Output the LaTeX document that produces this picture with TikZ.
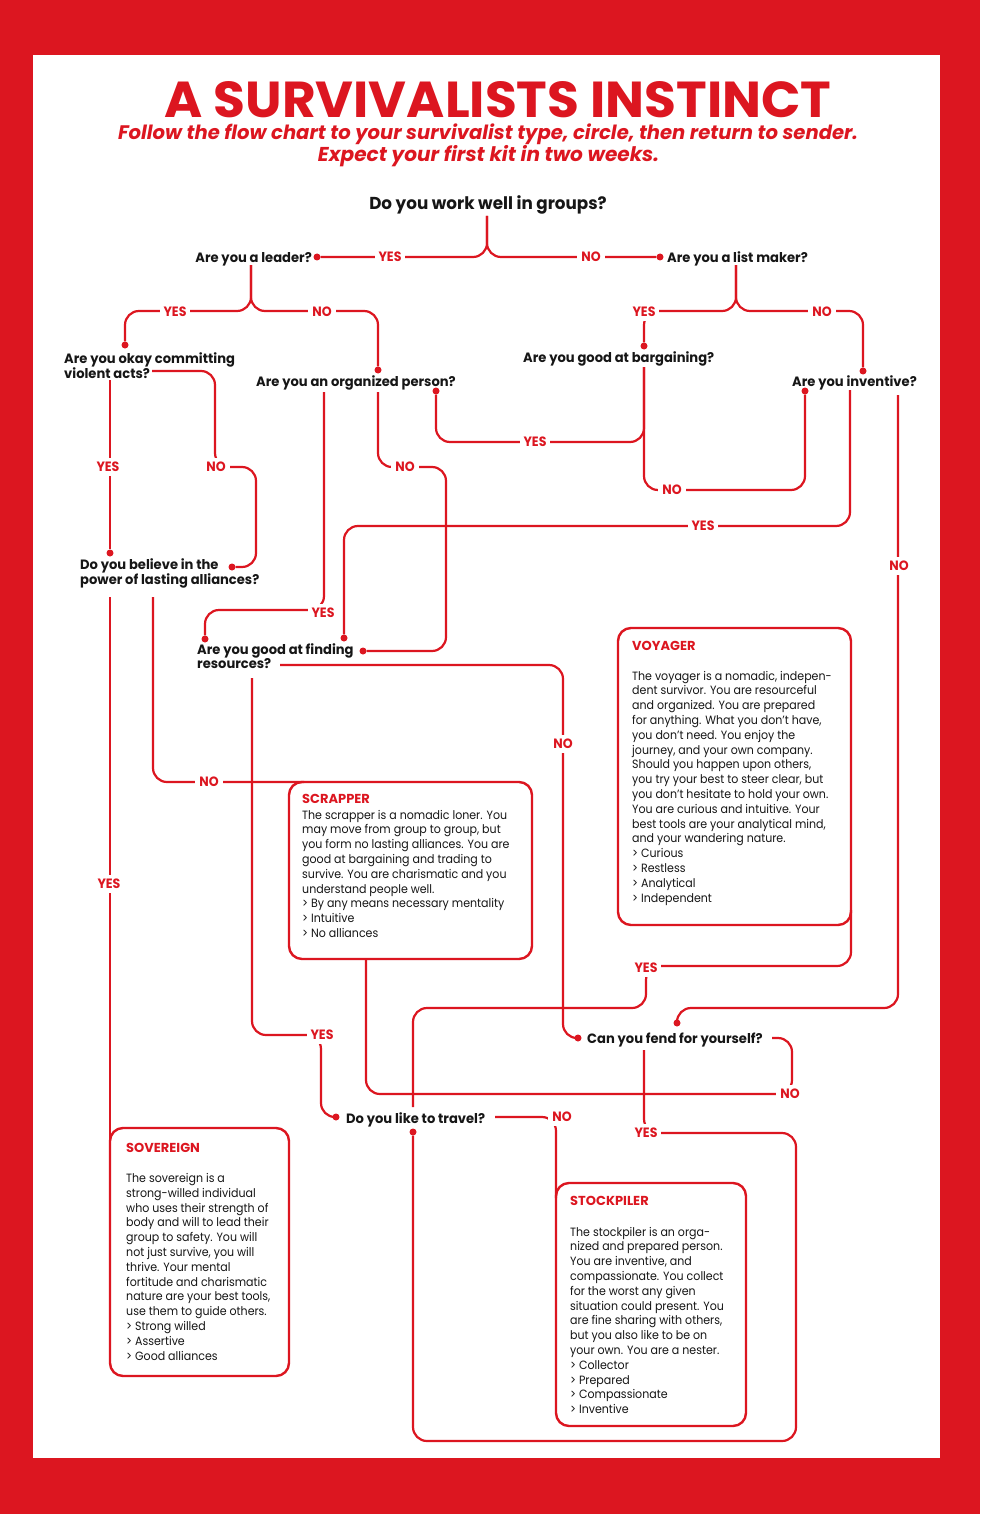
\documentclass[tikz,border=0pt]{standalone}
\usepackage{fontspec}
\setmainfont{Poppins}
\usepackage{graphicx}
\definecolor{rd}{RGB}{220,22,32}
\definecolor{ink}{RGB}{22,22,22}
\def\qsx{0.97}
\def\bsx{0.92}
\newcommand\qtxt[1]{\scalebox{\qsx}[1]{\begin{tabular}[t]{@{}l@{}}#1\end{tabular}}}
\newcommand\btxt[1]{\scalebox{\bsx}[1]{\begin{tabular}[t]{@{}l@{}}#1\end{tabular}}}
\newcommand\lb[1]{\scalebox{0.93}[1]{#1}}
\tikzset{
  conn/.style={draw=rd, line width=2.2pt, rounded corners=14pt},
  dot/.style={circle, fill=rd, inner sep=0pt, minimum size=7pt},
  q/.style={inner sep=0pt, text=ink, font=\fontsize{13.5}{14.5}\selectfont\bfseries, anchor=base west},
  lbl/.style={fill=white, inner xsep=4pt, inner ysep=4pt, text=rd, font=\fontsize{13.5}{13.5}\selectfont\bfseries},
  rbox/.style={draw=rd, line width=2.4pt, rounded corners=13pt, inner sep=0pt, outer sep=0pt, anchor=north west},
  btitle/.style={inner sep=0pt, anchor=base west, text=rd, font=\fontsize{13}{13}\selectfont\bfseries},
  body/.style={inner sep=0pt, anchor=base west, text=ink, font=\fontsize{12}{14.8}\selectfont},
}
\begin{document}
\begin{tikzpicture}[x=1pt,y=-1pt]
\useasboundingbox (0,0) rectangle (980,1514);
\fill[rd] (0,0) rectangle (980,1514);
\fill[white] (33,55) rectangle (940,1458);

% title
\node[inner sep=0pt, text=rd] (title) at (498,99.5) {\resizebox{667pt}{36pt}{\fontsize{50}{50}\selectfont\bfseries A SURVIVALISTS INSTINCT}};
\node[inner sep=0pt, text=rd, anchor=base] (sub1) at (488,140) {\resizebox{740pt}{!}{\fontsize{17}{17}\selectfont\bfseries\itshape Follow the flow chart to your survivalist type, circle, then return to sender.}};
\node[inner sep=0pt, text=rd, anchor=base] (sub2) at (488.5,162) {\resizebox{341pt}{!}{\fontsize{17}{17}\selectfont\bfseries\itshape Expect your first kit in two weeks.}};

% questions
\node[q, anchor=base, font=\fontsize{17.3}{18}\selectfont\bfseries] (q1) at (488,209.5) {\qtxt{Do you work well in groups?}};
\node[q, anchor=base east] (qLeader) at (312,262) {\qtxt{Are you a leader?}};
\node[q] (qList) at (667,262) {\qtxt{Are you a list maker?}};
\node[q] (qViol) at (64,363) {\qtxt{Are you okay committing\\violent acts?}};
\node[q] (qOrg) at (256,386) {\qtxt{Are you an organized person?}};
\node[q] (qBarg) at (523,362.5) {\qtxt{Are you good at bargaining?}};
\node[q] (qInv) at (792,386) {\qtxt{Are you inventive?}};
\node[q] (qAlli) at (80,569) {\qtxt{Do you believe in the\\power of lasting alliances?}};
\node[q] (qFind) at (197,654) {\qtxt{Are you good at finding\\resources?}};
\node[q] (qFend) at (587,1043.5) {\qtxt{Can you fend for yourself?}};
\node[q] (qTravel) at (346,1123) {\qtxt{Do you like to travel?}};

% result boxes
\node[rbox, minimum width=233pt, minimum height=297pt] (voyager) at (618,628) {};
\node[rbox, minimum width=243pt, minimum height=177pt] (scrapper) at (289,782) {};
\node[rbox, minimum width=179pt, minimum height=248pt] (sovereign) at (110,1128) {};
\node[rbox, minimum width=190pt, minimum height=243pt] (stockpiler) at (556,1183) {};

\node[btitle] (tVoy) at (632,650) {VOYAGER};
\node[body] (bVoy) at (632,680) {\btxt{The voyager is a nomadic, indepen-\\dent survivor. You are resourceful\\and organized. You are prepared\\for anything. What you don’t have,\\you don’t need. You enjoy the\\journey, and your own company.\\Should you happen upon others,\\you try your best to steer clear, but\\you don’t hesitate to hold your own.\\You are curious and intuitive. Your\\best tools are your analytical mind,\\and your wandering nature.\\> Curious\\> Restless\\> Analytical\\> Independent}};
\node[btitle] (tScr) at (302,803) {SCRAPPER};
\node[body] (bScr) at (302,819) {\btxt{The scrapper is a nomadic loner. You\\may move from group to group, but\\you form no lasting alliances. You are\\good at bargaining and trading to\\survive. You are charismatic and you\\understand people well.\\> By any means necessary mentality\\> Intuitive\\> No alliances}};
\node[btitle] (tSov) at (126,1152.5) {SOVEREIGN};
\node[body] (bSov) at (126,1182.5) {\btxt{The sovereign is a\\strong-willed individual\\who uses their strength of\\body and will to lead their\\group to safety. You will\\not just survive, you will\\thrive. Your mental\\fortitude and charismatic\\nature are your best tools,\\use them to guide others.\\> Strong willed\\> Assertive\\> Good alliances}};
\node[btitle] (tSto) at (570,1205.5) {STOCKPILER};
\node[body] (bSto) at (570,1236) {\btxt{The stockpiler is an orga-\\nized and prepared person.\\You are inventive, and\\compassionate. You collect\\for the worst any given\\situation could present. You\\are fine sharing with others,\\but you also like to be on\\your own. You are a nester.\\> Collector\\> Prepared\\> Compassionate\\> Inventive}};

% dots (connector ends)
\node[dot] (dLeader) at (317,257) {};
\node[dot] (dList) at (660,257) {};
\node[dot] (dViol) at (125,345) {};
\node[dot] (dOrg) at (378,370) {};
\node[dot] (dBarg) at (644,346) {};
\node[dot] (dInv) at (863,371) {};
\node[dot] (dAlliY) at (110,553) {};
\node[dot] (dAlliN) at (232,567) {};
\node[dot] (dFindY) at (205,639) {};
\node[dot] (dFindN) at (363,651) {};
\node[dot] (dOrgB) at (436,391) {};
\node[dot] (dInvB) at (805,391) {};
\node[dot] (dFindI) at (344,638) {};
\node[dot] (dFendI) at (677,1023) {};
\node[dot] (dTravF) at (336,1117) {};
\node[dot] (dFendF) at (578,1038) {};
\node[dot] (dTravY) at (413,1132) {};

% connector start / end points
\coordinate (s1) at (487,216);
\coordinate (sLeader) at (251,265);
\coordinate (sList) at (736,265);
\coordinate (sViolY) at (110,380);
\coordinate (sViolN) at (152,371);
\coordinate (sAlliY) at (110,597);
\coordinate (sAlliN) at (153,597);
\coordinate (sOrgY) at (324,392);
\coordinate (sOrgN) at (378,392);
\coordinate (sBarg) at (644,367);
\coordinate (sInvY) at (850,390);
\coordinate (sInvN) at (898,395);
\coordinate (sFindY) at (252,678);
\coordinate (sFindN) at (280,665);
\coordinate (sFendY) at (644,1050);
\coordinate (sFendN) at (772,1038);
\coordinate (sTravY) at (413,1107);
\coordinate (sTravN) at (495,1117);
\coordinate (eScr) at (366,959);
\coordinate (eScrT) at (304,782);
\coordinate (eSov) at (110,1143);
\coordinate (eSto) at (556,1198);
\coordinate (eVoy) at (851,910);

% connectors
\draw[conn] (s1) -- (s1 |- dLeader) -- (dLeader);
\draw[conn] (s1) -- (s1 |- dList) -- (dList);
\draw[conn] (sLeader) -- (251,311) -- (125,311) -- (dViol);
\draw[conn] (sLeader) -- (251,311) -- (378,311) -- (dOrg);
\draw[conn] (sList) -- (736,311) -- (644,311) -- (dBarg);
\draw[conn] (sList) -- (736,311) -- (863,311) -- (dInv);
\draw[conn] (sViolY) -- (dAlliY);
\draw[conn] (sViolN) -- (215,371) -- (215,467) -- (256,467) -- (256,567) -- (dAlliN);
\draw[conn] (sAlliY) -- (eSov);
\draw[conn] (sAlliN) -- (153,782) -- (eScrT);
\draw[conn] (sOrgY) -- (324,610) -- (205,610) -- (dFindY);
\draw[conn] (sOrgN) -- (378,467) -- (446,467) -- (446,651) -- (dFindN);
\draw[conn] (sBarg) -- (644,442) -- (436,442) -- (dOrgB);
\draw[conn] (sBarg) -- (644,490) -- (805,490) -- (dInvB);
\draw[conn] (sInvY) -- (850,526) -- (344,526) -- (dFindI);
\draw[conn] (sInvN) -- (898,1008) -- (677,1008) -- (dFendI);
\draw[conn] (sFindY) -- (252,1035) -- (321,1035) -- (321,1117) -- (dTravF);
\draw[conn] (sFindN) -- (563,665) -- (563,1038) -- (dFendF);
\draw[conn] (sFendY) -- (644,1133) -- (796,1133) -- (796,1441) -- (413,1441) -- (dTravY);
\draw[conn] (sFendN) -- (792,1038) -- (792,1094) -- (366,1094) -- (eScr);
\draw[conn] (sTravY) -- (413,1008) -- (646,1008) -- (646,966) -- (851,966) -- (eVoy);
\draw[conn] (sTravN) -- (556,1117) -- (eSto);

% labels
\node[lbl] (l1) at (390,257) {\lb{YES}};
\node[lbl] (l2) at (591,257) {\lb{NO}};
\node[lbl] (l3) at (175,312) {\lb{YES}};
\node[lbl] (l4) at (322,312) {\lb{NO}};
\node[lbl] (l5) at (644,312) {\lb{YES}};
\node[lbl] (l6) at (822,312) {\lb{NO}};
\node[lbl] (l7) at (108,467) {\lb{YES}};
\node[lbl] (l8) at (216,467) {\lb{NO}};
\node[lbl] (l9) at (109,884) {\lb{YES}};
\node[lbl] (l10) at (209,782) {\lb{NO}};
\node[lbl] (l11) at (323,613) {\lb{YES}};
\node[lbl] (l12) at (405,467) {\lb{NO}};
\node[lbl] (l13) at (535,442) {\lb{YES}};
\node[lbl] (l14) at (672,490) {\lb{NO}};
\node[lbl] (l15) at (703,526) {\lb{YES}};
\node[lbl] (l16) at (899,566) {\lb{NO}};
\node[lbl] (l17) at (322,1035) {\lb{YES}};
\node[lbl] (l18) at (563,744) {\lb{NO}};
\node[lbl] (l19) at (646,1133) {\lb{YES}};
\node[lbl] (l20) at (790,1094) {\lb{NO}};
\node[lbl] (l21) at (646,968) {\lb{YES}};
\node[lbl] (l22) at (562,1117) {\lb{NO}};
\end{tikzpicture}
\end{document}
